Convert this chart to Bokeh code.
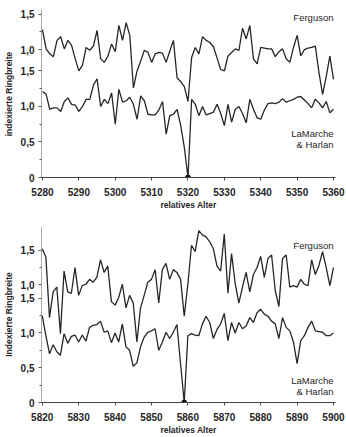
from bokeh.plotting import figure
from bokeh.layouts import column
from bokeh.models import FixedTicker, Label, Range1d
from bokeh.embed import file_html
from bokeh.resources import INLINE

# ---------------- data: upper panel (5280-5360) ----------------
years_a = list(range(5280, 5361))
ferguson_a = [1.28, 1.01, 0.94, 0.90, 1.13, 1.18, 1.01, 1.13, 1.06, 0.87,
              0.70, 0.78, 1.03, 0.99, 1.05, 1.27, 0.87, 0.82, 0.91, 1.08,
              0.97, 1.34, 1.13, 1.38, 1.20, 0.46, 0.70, 0.84, 0.99, 0.96,
              0.82, 0.94, 0.96, 0.95, 0.82, 0.98, 1.13, 0.60, 0.55, 0.48,
              0.27, 0.89, 1.03, 0.94, 1.18, 1.13, 1.10, 1.04, 0.88, 0.72,
              0.70, 0.91, 0.96, 1.01, 0.99, 1.30, 1.15, 1.34, 0.87, 0.80,
              1.03, 1.02, 1.01, 1.01, 0.90, 0.97, 1.01, 0.87, 0.82, 1.03,
              1.20, 0.91, 1.00, 1.02, 1.03, 1.05, 0.68, 0.37, 0.62, 0.91,
              0.58]
lamarche_a = [1.21, 1.17, 0.96, 0.98, 0.98, 0.93, 1.07, 1.12, 1.03, 1.02,
              0.93, 1.00, 1.10, 1.10, 1.30, 1.39, 1.00, 1.10, 1.04, 1.19,
              0.75, 1.24, 1.06, 1.08, 1.13, 1.03, 0.82, 1.15, 1.08, 0.89,
              0.88, 0.88, 0.95, 1.07, 0.61, 0.87, 0.89, 0.96, 0.73, 0.42,
              0.00, 1.10, 1.03, 0.87, 1.00, 0.88, 0.90, 0.92, 1.03, 0.90,
              0.73, 1.03, 0.78, 0.96, 1.00, 0.90, 0.77, 1.10, 0.96, 0.84,
              0.82, 0.95, 1.04, 1.05, 1.04, 1.06, 1.11, 1.06, 1.08, 1.10,
              1.13, 1.14, 1.09, 1.04, 0.98, 1.10, 1.05, 0.98, 1.07, 0.91,
              0.96]
offset_a = 0.8

# ---------------- data: lower panel (5820-5900) ----------------
years_b = list(range(5820, 5901))
ferguson_b = [1.52, 1.40, 0.53, 0.90, 0.97, 0.30, 1.20, 0.90, 0.88, 1.25,
              0.85, 0.99, 1.01, 1.08, 1.04, 1.11, 1.36, 1.18, 1.27, 0.76,
              0.71, 0.82, 1.01, 0.67, 0.85, 0.74, 0.18, 0.67, 0.85, 1.04,
              1.08, 1.22, 0.74, 1.22, 1.31, 1.08, 1.22, 1.18, 1.08, 0.55,
              1.01, 1.57, 1.48, 1.78, 1.72, 1.69, 1.62, 1.52, 1.27, 1.20,
              1.73, 0.88, 1.45, 1.02, 0.74, 0.97, 1.18, 0.90, 1.15, 1.25,
              1.41, 1.11, 1.38, 1.43, 0.92, 0.69, 1.38, 1.43, 0.97, 0.99,
              0.97, 1.08, 1.01, 0.99, 1.36, 1.15, 1.28, 1.48, 1.25, 0.99,
              1.25]
lamarche_b = [1.25, 0.96, 0.70, 0.83, 0.73, 0.68, 0.99, 0.85, 0.95, 0.97,
              0.87, 0.97, 0.88, 1.08, 1.11, 1.12, 1.17, 1.01, 1.03, 0.86,
              1.00, 0.87, 1.13, 0.80, 0.75, 0.52, 0.57, 0.80, 0.94, 1.01,
              1.03, 1.06, 0.75, 0.87, 1.01, 0.92, 1.01, 1.12, 0.55, 0.00,
              0.96, 0.99, 0.97, 0.96, 1.13, 1.24, 1.15, 0.92, 1.05, 1.13,
              1.28, 0.89, 1.15, 1.00, 1.15, 1.06, 1.10, 1.22, 1.15, 1.29,
              1.34, 1.27, 1.24, 1.17, 1.13, 0.92, 1.22, 1.08, 1.03, 0.87,
              0.56, 0.89, 0.96, 1.08, 1.17, 1.03, 1.02, 1.01, 0.96, 0.96,
              1.00]
offset_b = 0.69

series_names = ["Ferguson", "LaMarche", "& Harlan"]
xlabel = "relatives Alter"

FONT = "Liberation Sans"
INK = "#262626"


def panel(years, ferg, lam, off, x0, x1, ytop, ylabel, h, bt, bb, fy, ly1, ly2):
    p = figure(width=346, height=h, x_range=Range1d(x0, x1), y_range=Range1d(0, ytop),
               output_backend="svg", toolbar_location=None,
               min_border_left=40, min_border_right=11,
               min_border_top=bt, min_border_bottom=bb)
    p.outline_line_color = None
    p.grid.visible = False
    p.background_fill_color = "white"
    p.border_fill_color = "white"

    p.line(years, [v + off for v in ferg], line_color=INK, line_width=1.3)
    p.line(years, lam, line_color=INK, line_width=1.3)
    zx = [y for y, v in zip(years, lam) if v == 0]
    p.scatter(zx, [0] * len(zx), size=5, color="#111111")

    step = 10
    p.xaxis.ticker = FixedTicker(ticks=list(range(years[0], years[-1] + 1, step)))
    p.xaxis.axis_label = xlabel
    p.xaxis.major_label_text_font = FONT
    p.xaxis.major_label_text_font_style = "bold"
    p.xaxis.major_label_text_font_size = "10px"
    p.xaxis.major_label_text_color = INK
    p.xaxis.axis_label_text_font = FONT
    p.xaxis.axis_label_text_font_style = "bold"
    p.xaxis.axis_label_text_font_size = "8.5px"
    p.xaxis.axis_label_text_color = INK
    p.xaxis.axis_label_standoff = 1
    p.xaxis.major_label_standoff = 7
    p.xaxis.major_tick_out = 3
    p.xaxis.major_tick_in = 0
    p.xaxis.minor_tick_line_color = None
    p.xaxis.axis_line_color = "#444444"
    p.xaxis.major_tick_line_color = "#444444"

    ticks = [0, 0.5, 1.0, 1.5, off + 1.0, off + 1.5]
    labels = ["0", "0,5", "1,0", "1,5", "1,0", "1,5"]
    p.yaxis.ticker = FixedTicker(ticks=ticks, minor_ticks=[0.25, 0.75, 1.25, off + 1.25])
    p.yaxis.major_label_overrides = {t: s for t, s in zip(ticks, labels)}
    p.yaxis.axis_label = ylabel
    p.yaxis.major_label_text_font = FONT
    p.yaxis.major_label_text_font_style = "bold"
    p.yaxis.major_label_text_font_size = "10px"
    p.yaxis.major_label_text_color = INK
    p.yaxis.axis_label_text_font = FONT
    p.yaxis.axis_label_text_font_style = "bold"
    p.yaxis.axis_label_text_font_size = "8.5px"
    p.yaxis.axis_label_text_color = INK
    p.yaxis.axis_label_standoff = 4
    p.yaxis.major_label_standoff = 4
    p.yaxis.major_tick_out = 3
    p.yaxis.major_tick_in = 0
    p.yaxis.minor_tick_out = 2
    p.yaxis.minor_tick_in = 0
    p.yaxis.axis_line_color = "#555555"
    p.yaxis.axis_line_dash = "1 1"
    p.yaxis.major_tick_line_color = "#555555"
    p.yaxis.minor_tick_line_color = "#555555"

    common = dict(text_font=FONT, text_font_size="9.5px", text_color=INK,
                  text_align="right", text_baseline="middle")
    p.add_layout(Label(x=years[-1], y=fy, text=series_names[0], **common))
    p.add_layout(Label(x=years[-1], y=ly1, text=series_names[1], **common))
    p.add_layout(Label(x=years[-1], y=ly2, text=series_names[2], **common))
    return p


top = panel(years_a, ferguson_a, lamarche_a, offset_a, 5279.73, 5360.55, 2.35,
            "indexierte Ringbreite", 218, 10, 41, 2.25, 0.615, 0.46)
bottom = panel(years_b, ferguson_b, lamarche_b, offset_b, 5819.8, 5900.55, 2.53,
               "Indexierte Ringbreite", 219, 8, 32, 2.26, 0.315, 0.155)

layout = column(top, bottom, spacing=0)
open("out.html", "w").write(file_html(layout, INLINE))
